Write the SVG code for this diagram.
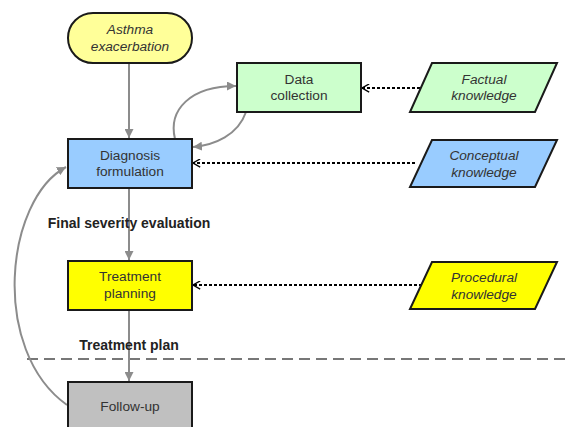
<svg xmlns="http://www.w3.org/2000/svg" width="568" height="427" viewBox="0 0 568 427">
<defs>
<marker id="ah" viewBox="0 0 10 10" refX="10" refY="5" markerWidth="9" markerHeight="9" markerUnits="userSpaceOnUse" orient="auto">
<path d="M0,0 L10,5 L0,10 Z" fill="#8c8c8c"/>
</marker>
<marker id="oh" viewBox="0 0 10 10" refX="9" refY="5" markerWidth="9" markerHeight="9" markerUnits="userSpaceOnUse" orient="auto">
<path d="M1,0.5 L9,5 L1,9.5" fill="none" stroke="#000" stroke-width="1.5"/>
</marker>
<style>
.box{stroke:#1a1a1a;stroke-width:2}
.t{font-family:"Liberation Sans",Arial,sans-serif;font-size:13.7px;fill:#333;text-anchor:middle}
.i{font-style:italic}
.lbl{font-family:"Liberation Sans",Arial,sans-serif;font-size:14px;font-weight:bold;fill:#222;text-anchor:middle}
.flow{fill:none;stroke:#8c8c8c;stroke-width:2;marker-end:url(#ah)}
.dot{fill:none;stroke:#000;stroke-width:2;stroke-dasharray:3,2;marker-end:url(#oh)}
</style>
</defs>
<line x1="27" y1="359" x2="568" y2="359" stroke="#777" stroke-width="2" stroke-dasharray="11,6"/>
<g id="connectors">
<path class="flow" d="M129,63 L129,138"/>
<path class="flow" d="M175,139 C168,110 190,86 236,86"/>
<path class="flow" d="M246,112 C238,135 215,145 193,147"/>
<path class="flow" d="M129,188 L129,260"/>
<path class="flow" d="M129,310 L129,381"/>
<path class="flow" d="M67,405 C-10,350 5,200 66,167"/>
<path class="dot" d="M420,88 L362,88"/>
<path class="dot" d="M415,163 L193,163"/>
<path class="dot" d="M422,285 L193,285"/>
</g>
<g id="asthma">
<rect class="box" x="68" y="13" width="124" height="50" rx="25" fill="#ffff99"/>
<text class="t i" x="130" y="34">Asthma</text>
<text class="t i" x="130" y="51">exacerbation</text>
</g>
<g id="data">
<rect class="box" x="237" y="63" width="124" height="49" fill="#ccffcc"/>
<text class="t" x="299" y="84">Data</text>
<text class="t" x="299" y="100">collection</text>
</g>
<g id="factual">
<polygon class="box" points="432,63 557,63 535,112 410,112" fill="#ccffcc"/>
<text class="t i" x="484" y="84">Factual</text>
<text class="t i" x="484" y="100">knowledge</text>
</g>
<g id="diagnosis">
<rect class="box" x="68" y="139" width="124" height="49" fill="#99ccff"/>
<text class="t" x="130" y="160">Diagnosis</text>
<text class="t" x="130" y="176">formulation</text>
</g>
<g id="conceptual">
<polygon class="box" points="432,140 557,140 535,187 410,187" fill="#99ccff"/>
<text class="t i" x="484" y="160">Conceptual</text>
<text class="t i" x="484" y="177">knowledge</text>
</g>
<text class="lbl" x="129" y="228">Final severity evaluation</text>
<g id="treatment">
<rect class="box" x="68" y="261" width="124" height="49" fill="#ffff00"/>
<text class="t" x="130" y="281">Treatment</text>
<text class="t" x="130" y="298">planning</text>
</g>
<g id="procedural">
<polygon class="box" points="432,262 557,262 535,309 410,309" fill="#ffff00"/>
<text class="t i" x="484" y="282">Procedural</text>
<text class="t i" x="484" y="299">knowledge</text>
</g>
<text class="lbl" x="129" y="350">Treatment plan</text>
<g id="followup">
<rect class="box" x="68" y="382" width="124" height="60" fill="#c0c0c0"/>
<text class="t" x="130" y="411">Follow-up</text>
</g>
</svg>
